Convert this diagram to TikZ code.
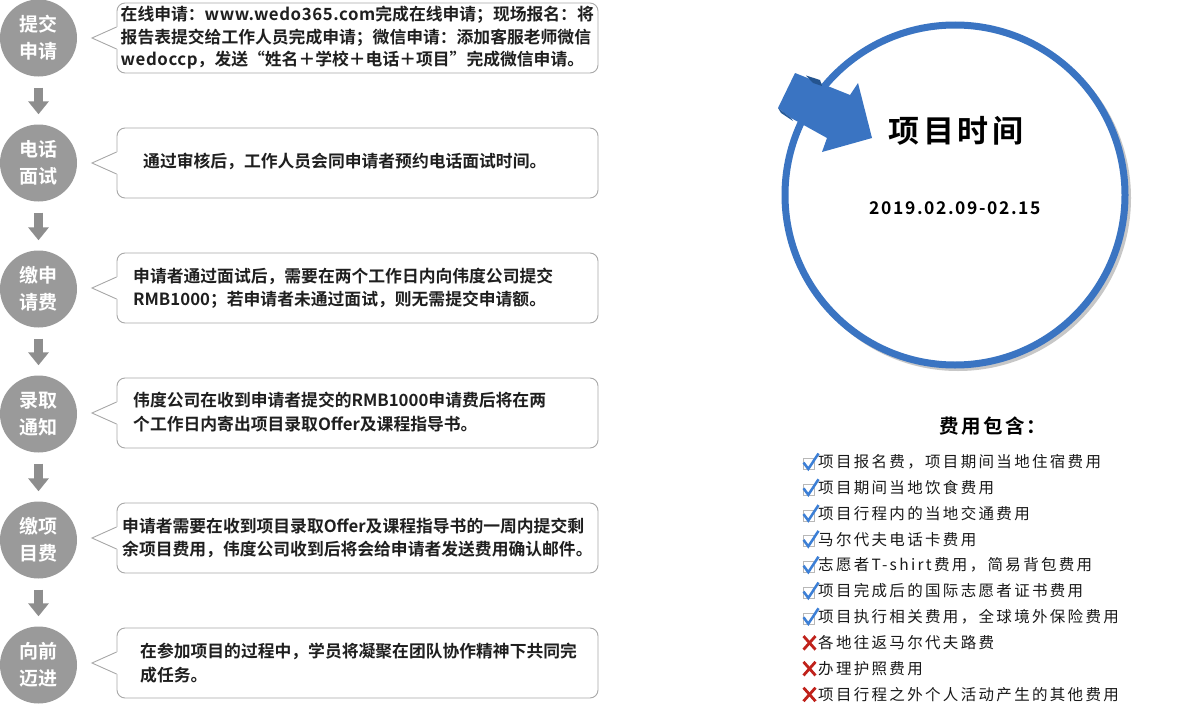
\documentclass[tikz,border=0pt]{standalone}
\usepackage{fontspec}
\setmainfont{Noto Sans CJK SC}[BoldFont={Noto Sans CJK SC Bold}]
\newfontfamily\itemfont{Noto Sans CJK SC}[LetterSpace=15]
\newfontfamily\boldspaced{Noto Sans CJK SC Bold}[LetterSpace=12]
\usetikzlibrary{arrows.meta,calc}
\definecolor{stepgray}{HTML}{9A9A9A}
\definecolor{arrowgray}{HTML}{8E8E8E}
\definecolor{boxgray}{HTML}{A8A8A8}
\definecolor{ringblue}{HTML}{3A74C2}
\definecolor{foldblue}{HTML}{24548F}
\definecolor{chkblue}{HTML}{3C7FD6}
\definecolor{crsred}{HTML}{C0221B}
\tikzset{
  stepcircle/.style={circle, fill=stepgray, minimum size=77pt, inner sep=0pt, text=white,
    font=\fontsize{19}{27}\selectfont\bfseries, align=center},
  downarrow/.style={draw=arrowgray, line width=9pt, -{Triangle[width=20pt,length=13pt]}},
  calloutbox/.style={draw=boxgray, line width=0.9pt, fill=white, rounded corners=8pt,
    minimum width=481pt, minimum height=70pt, inner sep=0pt},
  callouttext/.style={anchor=west, inner sep=0pt, align=left, text=black!88,
    font=\fontsize{16.8}{23.5}\selectfont\bfseries},
  itemtext/.style={anchor=west, inner sep=0pt, text=black!90, font=\fontsize{15.5}{18}\itemfont},
}
\newcommand\latsp[1]{{\addfontfeature{LetterSpace=3.5}#1}}
\newcommand\pointerto[2]{%
  \fill[white] ($(#1.west)+(1.2pt,11pt)$) -- (#2) -- ($(#1.west)+(1.2pt,-11pt)$) -- cycle;
  \draw[boxgray, line width=0.9pt] ($(#1.west)+(0,11pt)$) -- (#2) -- ($(#1.west)+(0,-11pt)$);
}
\newcommand\chkicon[1]{%
  \draw[black!28, line width=0.9pt] (803.5,#1-3.5) rectangle (814.5,#1+7.5);
  \draw[chkblue, line width=2.5pt, line join=miter] (803.5,#1+0.5) -- (808.3,#1+7) -- (818.5,#1-8.5);
}
\newcommand\crsicon[1]{%
  \draw[crsred, line width=2.8pt] (803.5,#1-6.5) -- (815.5,#1+7);
  \draw[crsred, line width=2.8pt] (803.5,#1+7) -- (815.5,#1-6.5);
}
\begin{document}
\begin{tikzpicture}[x=1pt,y=-1pt]
\useasboundingbox (0,0) rectangle (1200,704);
\fill[white] (0,0) rectangle (1200,704);

% step circles
\node[stepcircle] (c1) at (38.5,38)  {提交\\申请};
\node[stepcircle] (c2) at (38.5,163) {电话\\面试};
\node[stepcircle] (c3) at (38.5,289) {缴申\\请费};
\node[stepcircle] (c4) at (38.5,414) {录取\\通知};
\node[stepcircle] (c5) at (38.5,540) {缴项\\目费};
\node[stepcircle] (c6) at (38.5,665) {向前\\迈进};

% down arrows
\draw[downarrow] ([yshift=-11pt]c1.south) -- ([yshift=10pt]c2.north);
\draw[downarrow] ([yshift=-11pt]c2.south) -- ([yshift=10pt]c3.north);
\draw[downarrow] ([yshift=-11pt]c3.south) -- ([yshift=10pt]c4.north);
\draw[downarrow] ([yshift=-11pt]c4.south) -- ([yshift=10pt]c5.north);
\draw[downarrow] ([yshift=-11pt]c5.south) -- ([yshift=10pt]c6.north);

% callout boxes
\node[calloutbox] (b1) at (357.5,38)  {};
\node[calloutbox] (b2) at (357.5,163) {};
\node[calloutbox] (b3) at (357.5,288) {};
\node[calloutbox] (b4) at (357.5,413) {};
\node[calloutbox] (b5) at (357.5,538) {};
\node[calloutbox] (b6) at (357.5,663) {};
\coordinate (t1) at (92,38);
\coordinate (t2) at (92,163);
\coordinate (t3) at (92,288);
\coordinate (t4) at (92,413);
\coordinate (t5) at (92,538);
\coordinate (t6) at (92,663);
\pointerto{b1}{t1}
\pointerto{b2}{t2}
\pointerto{b3}{t3}
\pointerto{b4}{t4}
\pointerto{b5}{t5}
\pointerto{b6}{t6}

\node[callouttext, font=\fontsize{16.8}{22.5}\selectfont\bfseries] (x1) at (120.5,38)
  {在线申请：\latsp{www.wedo365.com}完成在线申请；现场报名：将\\报告表提交给工作人员完成申请；微信申请：添加客服老师微信\\\latsp{wedoccp}，发送“姓名＋学校＋电话＋项目”完成微信申请。};
\node[callouttext] (x2) at (143,161) {通过审核后，工作人员会同申请者预约电话面试时间。};
\node[callouttext] (x3) at (133,288) {申请者通过面试后，需要在两个工作日内向伟度公司提交\\RMB1000；若申请者未通过面试，则无需提交申请额。};
\node[callouttext] (x4) at (133,412) {伟度公司在收到申请者提交的RMB1000申请费后将在两\\个工作日内寄出项目录取Offer及课程指导书。};
\node[callouttext] (x5) at (122,538) {申请者需要在收到项目录取Offer及课程指导书的一周内提交剩\\余项目费用，伟度公司收到后将会给申请者发送费用确认邮件。};
\node[callouttext] (x6) at (140,663) {在参加项目的过程中，学员将凝聚在团队协作精神下共同完\\成任务。};

% big ring with shadow
\draw[black!22, line width=8pt] (958,198) circle[radius=169];
\node[circle, draw=ringblue, fill=white, line width=7pt, minimum size=340pt, inner sep=0pt] (ring) at (955,195) {};

% blue arrow
\fill[ringblue] (795,73) -- (850,95) -- (858,83) -- (872,138) -- (822,152) -- (827,138)
  -- (791,118) -- (778,108) -- cycle;
\fill[foldblue] (806,75.5) -- (820,80) -- (822,86) -- (813,83) -- cycle;
\fill[foldblue!80!ringblue] (778,108) -- (791,118) -- (793,121) -- (781,113) -- cycle;

\node[inner sep=0pt, font=\fontsize{31}{34}\boldspaced] (title) at (956,131) {项目时间};
\node[inner sep=0pt, font=\fontsize{17.5}{20}\boldspaced\addfontfeature{LetterSpace=9}] (date) at (955,208) {2019.02.09-02.15};

% fee list
\node[inner sep=0pt, font=\fontsize{19.5}{22}\boldspaced] (feehead) at (993,426) {费用包含：};
\chkicon{462}
\chkicon{487.8}
\chkicon{513.6}
\chkicon{539.4}
\chkicon{565.2}
\chkicon{591}
\chkicon{616.8}
\crsicon{642.6}
\crsicon{668.4}
\crsicon{694.2}
\node[itemtext] (i1)  at (818,462)   {项目报名费，项目期间当地住宿费用};
\node[itemtext] (i2)  at (818,487.8) {项目期间当地饮食费用};
\node[itemtext] (i3)  at (818,513.6) {项目行程内的当地交通费用};
\node[itemtext] (i4)  at (818,539.4) {马尔代夫电话卡费用};
\node[itemtext] (i5)  at (818,565.2) {志愿者T-shirt费用，简易背包费用};
\node[itemtext] (i6)  at (818,591)   {项目完成后的国际志愿者证书费用};
\node[itemtext] (i7)  at (818,616.8) {项目执行相关费用，全球境外保险费用};
\node[itemtext] (i8)  at (818,642.6) {各地往返马尔代夫路费};
\node[itemtext] (i9)  at (818,668.4) {办理护照费用};
\node[itemtext] (i10) at (818,694.2) {项目行程之外个人活动产生的其他费用};
\end{tikzpicture}
\end{document}
